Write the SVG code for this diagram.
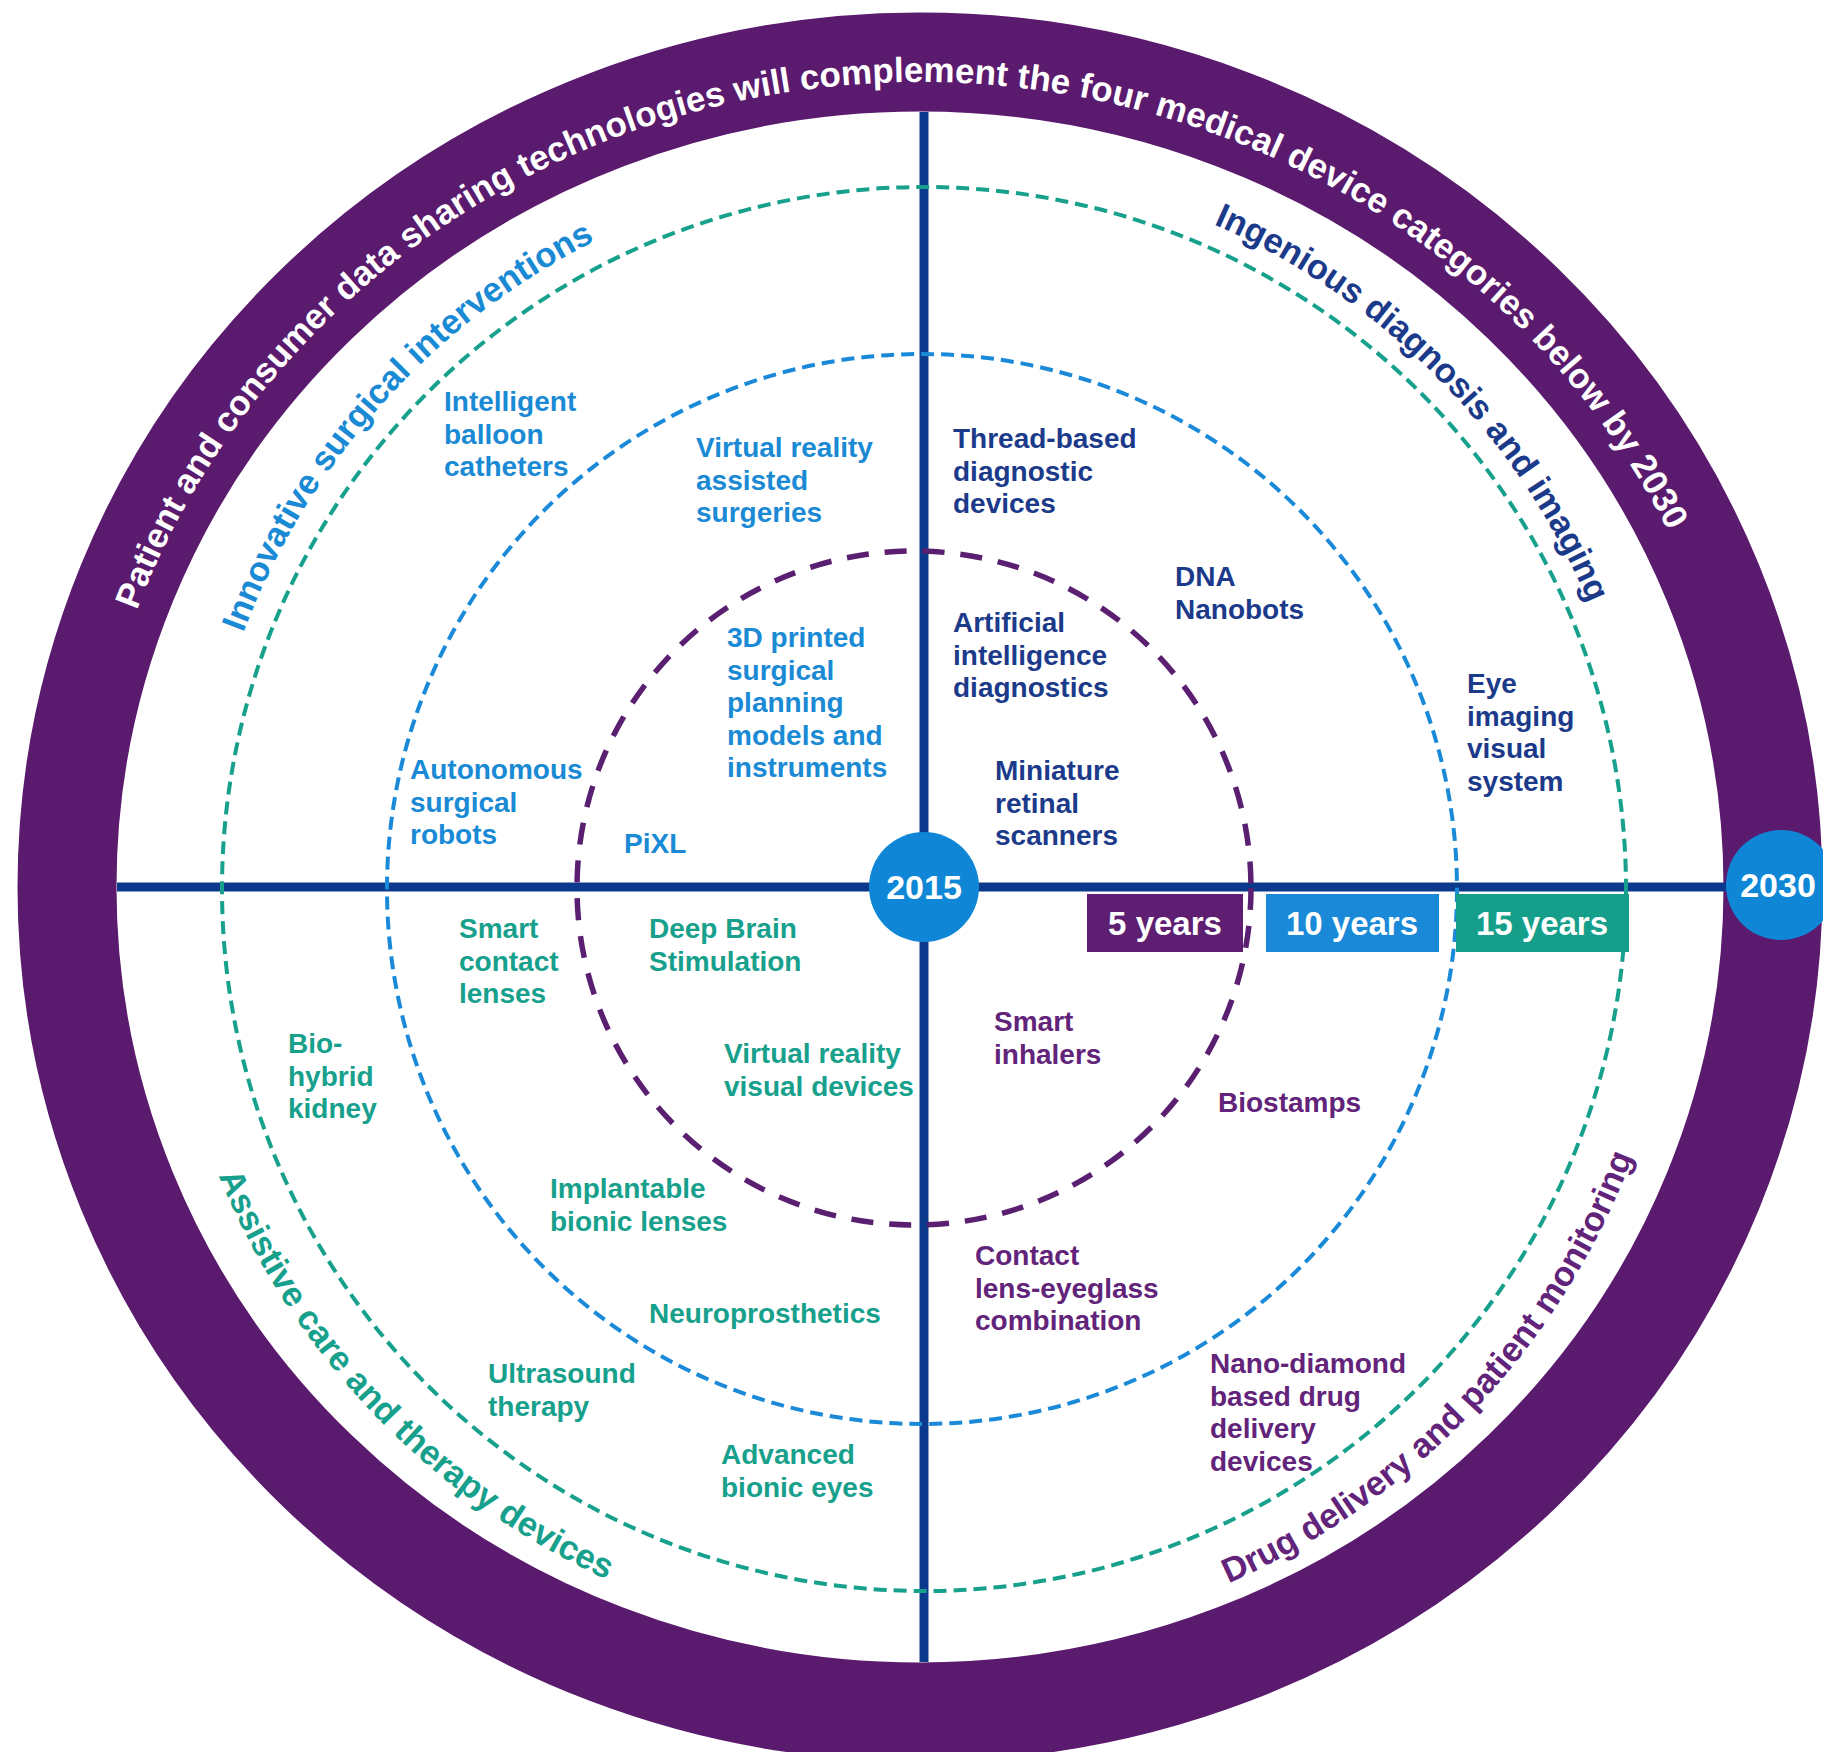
<svg xmlns="http://www.w3.org/2000/svg" xmlns:xlink="http://www.w3.org/1999/xlink" width="1823" height="1752" viewBox="0 0 1823 1752">
  <style>
    text { font-family: "Liberation Sans", Arial, sans-serif; }
    .lbl { font-size: 28px; font-weight: bold; }
    .blue { fill: #1a8ad5; }
    .navy { fill: #1c3a8a; }
    .teal { fill: #17a08c; }
    .purp { fill: #62237a; }
    .cat { font-size: 34.5px; font-weight: bold; }
    .ring { font-size: 35px; font-weight: bold; fill: #ffffff; }
    .box { font-size: 33px; font-weight: bold; fill: #ffffff; }
    .year { font-size: 34px; font-weight: bold; fill: #ffffff; text-anchor: middle; }
    .axis { stroke: #0b3a8d; stroke-width: 9; fill: none; }
    .d5 { fill: none; stroke: #5a1f70; stroke-width: 5.5; stroke-dasharray: 22 16; }
    .d10 { fill: none; stroke: #1a8ad8; stroke-width: 4; stroke-dasharray: 13 7; }
    .d15 { fill: none; stroke: #17a08c; stroke-width: 4; stroke-dasharray: 13 7; }
  </style>
  <defs>
    <path id="ringPath" d="M 86 887 A 834 805 0 0 1 1754 887"/>
    <path id="topCat" d="M 197 888 A 725 725 0 0 1 1647 888"/>
    <path id="botCat" d="M 162 888 A 760 760 0 0 0 1682 888"/>
  </defs>
  <rect width="1823" height="1752" fill="#ffffff"/>

  <g id="outer-ring">
    <ellipse cx="920" cy="887" rx="853" ry="825" fill="none" stroke="#5a1a6e" stroke-width="99"/>
    <text class="ring"><textPath xlink:href="#ringPath" href="#ringPath" startOffset="1244" text-anchor="middle">Patient and consumer data sharing technologies will complement the four medical device categories below by 2030</textPath></text>
  </g>

  <g id="connectors">
    <line class="axis" x1="117" y1="887" x2="1730" y2="887"/>
    <line class="axis" x1="924" y1="112" x2="924" y2="1662"/>
  </g>

  <g id="rings">
    <circle id="ring-15" class="d15" cx="924" cy="889" r="702"/>
    <circle id="ring-10" class="d10" cx="922" cy="889" r="535"/>
    <circle id="ring-5" class="d5" cx="914" cy="888" r="337"/>
  </g>

  <g id="categories">
    <text class="cat blue"><textPath xlink:href="#topCat" href="#topCat" startOffset="530" text-anchor="middle">Innovative surgical interventions</textPath></text>
    <text class="cat navy"><textPath xlink:href="#topCat" href="#topCat" startOffset="1712" text-anchor="middle">Ingenious diagnosis and imaging</textPath></text>
    <text class="cat teal"><textPath xlink:href="#botCat" href="#botCat" startOffset="582" text-anchor="middle">Assistive care and therapy devices</textPath></text>
    <text class="cat purp"><textPath xlink:href="#botCat" href="#botCat" startOffset="1811" text-anchor="middle">Drug delivery and patient monitoring</textPath></text>
  </g>

  <g id="scale">
    <g id="box-5"><rect x="1087" y="894" width="156" height="58" fill="#5e1f72"/><text class="box" x="1165" y="935" text-anchor="middle">5 years</text></g>
    <g id="box-10"><rect x="1266" y="894" width="173" height="58" fill="#1a8ad8"/><text class="box" x="1352" y="935" text-anchor="middle">10 years</text></g>
    <g id="box-15"><rect x="1456" y="894" width="173" height="58" fill="#159f8b"/><text class="box" x="1542" y="935" text-anchor="middle">15 years</text></g>
    <g id="y2015"><circle cx="924" cy="887" r="55" fill="#0f87d6"/><text class="year" x="924" y="899">2015</text></g>
    <g id="y2030"><circle cx="1781" cy="885" r="55" fill="#0f87d6"/><text class="year" x="1778" y="897">2030</text></g>
  </g>

  <g id="surgical">
    <g id="n-balloon"><text class="lbl blue" x="444" y="411">Intelligent<tspan x="444" dy="32.5">balloon</tspan><tspan x="444" dy="32.5">catheters</tspan></text></g>
    <g id="n-vr-surg"><text class="lbl blue" x="696" y="457">Virtual reality<tspan x="696" dy="32.5">assisted</tspan><tspan x="696" dy="32.5">surgeries</tspan></text></g>
    <g id="n-3d"><text class="lbl blue" x="727" y="647">3D printed<tspan x="727" dy="32.5">surgical</tspan><tspan x="727" dy="32.5">planning</tspan><tspan x="727" dy="32.5">models and</tspan><tspan x="727" dy="32.5">instruments</tspan></text></g>
    <g id="n-robots"><text class="lbl blue" x="410" y="779">Autonomous<tspan x="410" dy="32.5">surgical</tspan><tspan x="410" dy="32.5">robots</tspan></text></g>
    <g id="n-pixl"><text class="lbl blue" x="624" y="853">PiXL</text></g>
  </g>

  <g id="diagnosis">
    <g id="n-thread"><text class="lbl navy" x="953" y="448">Thread-based<tspan x="953" dy="32.5">diagnostic</tspan><tspan x="953" dy="32.5">devices</tspan></text></g>
    <g id="n-dna"><text class="lbl navy" x="1175" y="586">DNA<tspan x="1175" dy="32.5">Nanobots</tspan></text></g>
    <g id="n-ai"><text class="lbl navy" x="953" y="632">Artificial<tspan x="953" dy="32.5">intelligence</tspan><tspan x="953" dy="32.5">diagnostics</tspan></text></g>
    <g id="n-retinal"><text class="lbl navy" x="995" y="780">Miniature<tspan x="995" dy="32.5">retinal</tspan><tspan x="995" dy="32.5">scanners</tspan></text></g>
    <g id="n-eye"><text class="lbl navy" x="1467" y="693">Eye<tspan x="1467" dy="32.5">imaging</tspan><tspan x="1467" dy="32.5">visual</tspan><tspan x="1467" dy="32.5">system</tspan></text></g>
  </g>

  <g id="assistive">
    <g id="n-contact"><text class="lbl teal" x="459" y="938">Smart<tspan x="459" dy="32.5">contact</tspan><tspan x="459" dy="32.5">lenses</tspan></text></g>
    <g id="n-dbs"><text class="lbl teal" x="649" y="938">Deep Brain<tspan x="649" dy="32.5">Stimulation</tspan></text></g>
    <g id="n-kidney"><text class="lbl teal" x="288" y="1053">Bio-<tspan x="288" dy="32.5">hybrid</tspan><tspan x="288" dy="32.5">kidney</tspan></text></g>
    <g id="n-vr-vis"><text class="lbl teal" x="724" y="1063">Virtual reality<tspan x="724" dy="32.5">visual devices</tspan></text></g>
    <g id="n-lenses"><text class="lbl teal" x="550" y="1198">Implantable<tspan x="550" dy="32.5">bionic lenses</tspan></text></g>
    <g id="n-neuro"><text class="lbl teal" x="649" y="1323">Neuroprosthetics</text></g>
    <g id="n-ultra"><text class="lbl teal" x="488" y="1383">Ultrasound<tspan x="488" dy="32.5">therapy</tspan></text></g>
    <g id="n-eyes"><text class="lbl teal" x="721" y="1464">Advanced<tspan x="721" dy="32.5">bionic eyes</tspan></text></g>
  </g>

  <g id="drug">
    <g id="n-inhalers"><text class="lbl purp" x="994" y="1031">Smart<tspan x="994" dy="32.5">inhalers</tspan></text></g>
    <g id="n-biostamps"><text class="lbl purp" x="1218" y="1112">Biostamps</text></g>
    <g id="n-eyeglass"><text class="lbl purp" x="975" y="1265">Contact<tspan x="975" dy="32.5">lens-eyeglass</tspan><tspan x="975" dy="32.5">combination</tspan></text></g>
    <g id="n-nano"><text class="lbl purp" x="1210" y="1373">Nano-diamond<tspan x="1210" dy="32.5">based drug</tspan><tspan x="1210" dy="32.5">delivery</tspan><tspan x="1210" dy="32.5">devices</tspan></text></g>
  </g>
</svg>
